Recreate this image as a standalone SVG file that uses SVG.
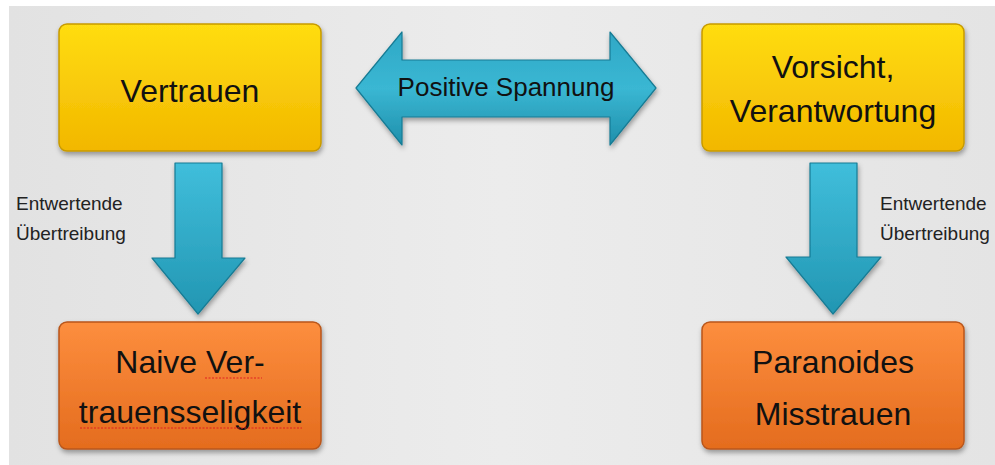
<svg xmlns="http://www.w3.org/2000/svg" width="995" height="465" viewBox="0 0 995 465">
<defs>
<linearGradient id="bg" x1="0" y1="0" x2="1" y2="0">
<stop offset="0" stop-color="#e2e2e2"/><stop offset="0.5" stop-color="#ececec"/><stop offset="1" stop-color="#e4e4e4"/>
</linearGradient>
<linearGradient id="yel" x1="0" y1="0" x2="0" y2="1">
<stop offset="0" stop-color="#ffdd12"/><stop offset="1" stop-color="#f2b700"/>
</linearGradient>
<linearGradient id="org" x1="0" y1="0" x2="0" y2="1">
<stop offset="0" stop-color="#fd8e3e"/><stop offset="1" stop-color="#e46c1e"/>
</linearGradient>
<linearGradient id="tealV" x1="0" y1="0" x2="0" y2="1">
<stop offset="0" stop-color="#40bedb"/><stop offset="1" stop-color="#2296b2"/>
</linearGradient>
<linearGradient id="tealH" x1="0" y1="0" x2="0" y2="1">
<stop offset="0" stop-color="#2fa8c6"/><stop offset="0.5" stop-color="#3ab7d3"/><stop offset="1" stop-color="#1f8fab"/>
</linearGradient>
<filter id="sh" x="-10%" y="-10%" width="120%" height="130%">
<feDropShadow dx="1" dy="3" stdDeviation="2.5" flood-color="#000" flood-opacity="0.35"/>
</filter>
</defs>
<style>
.yb{fill:url(#yel);stroke:#c79a00;stroke-width:1.5;filter:url(#sh)}
.ob{fill:url(#org);stroke:#b9561a;stroke-width:1.5;filter:url(#sh)}
.ar{stroke:#177b94;stroke-width:1.2;stroke-linejoin:round;filter:url(#sh)}
.t{font-family:"Liberation Sans",Arial,sans-serif;font-size:32px;fill:#111;text-anchor:middle}
.s{font-family:"Liberation Sans",Arial,sans-serif;font-size:19px;fill:#222}
.sq{fill:none;stroke:#e02020;stroke-width:1;stroke-dasharray:2 1.5}
</style>
<rect x="0" y="0" width="995" height="465" fill="#ffffff"/>
<rect x="9" y="6" width="986" height="459" fill="url(#bg)"/>

<g id="connectors">
<path class="ar" fill="url(#tealH)" d="M356,88 L402,32 L402,60 L610,60 L610,32 L656,88 L610,145 L610,117 L402,117 L402,145 Z"/>
<text x="506" y="96" font-family="'Liberation Sans',Arial,sans-serif" font-size="26" fill="#111" text-anchor="middle">Positive Spannung</text>
<path class="ar" fill="url(#tealV)" d="M175,163 L222,163 L222,258 L245,258 L198,314 L152,258 L175,258 Z"/>
<path class="ar" fill="url(#tealV)" d="M810,163 L857,163 L857,257 L881,257 L833,314 L786,257 L810,257 Z"/>
<text class="s" x="16" y="210">Entwertende</text>
<text class="s" x="16" y="240">Übertreibung</text>
<text class="s" x="880" y="210">Entwertende</text>
<text class="s" x="880" y="240">Übertreibung</text>
</g>

<g id="vertrauen">
<rect class="yb" x="59" y="24" width="262" height="127" rx="8"/>
<text class="t" x="190" y="102">Vertrauen</text>
</g>
<g id="vorsicht">
<rect class="yb" x="702" y="24" width="262" height="127" rx="8"/>
<text class="t" x="833" y="78">Vorsicht,</text>
<text class="t" x="833" y="122">Verantwortung</text>
</g>
<g id="naive">
<rect class="ob" x="59" y="322" width="262" height="127" rx="8"/>
<text class="t" x="190" y="373">Naive Ver-</text>
<text class="t" x="190" y="423">trauensseligkeit</text>
<path class="sq" d="M205,378 L262,378"/>
<path class="sq" d="M80,428 L302,428"/>
</g>
<g id="paranoides">
<rect class="ob" x="702" y="322" width="262" height="127" rx="8"/>
<text class="t" x="833" y="373">Paranoides</text>
<text class="t" x="833" y="425">Misstrauen</text>
</g>
</svg>
